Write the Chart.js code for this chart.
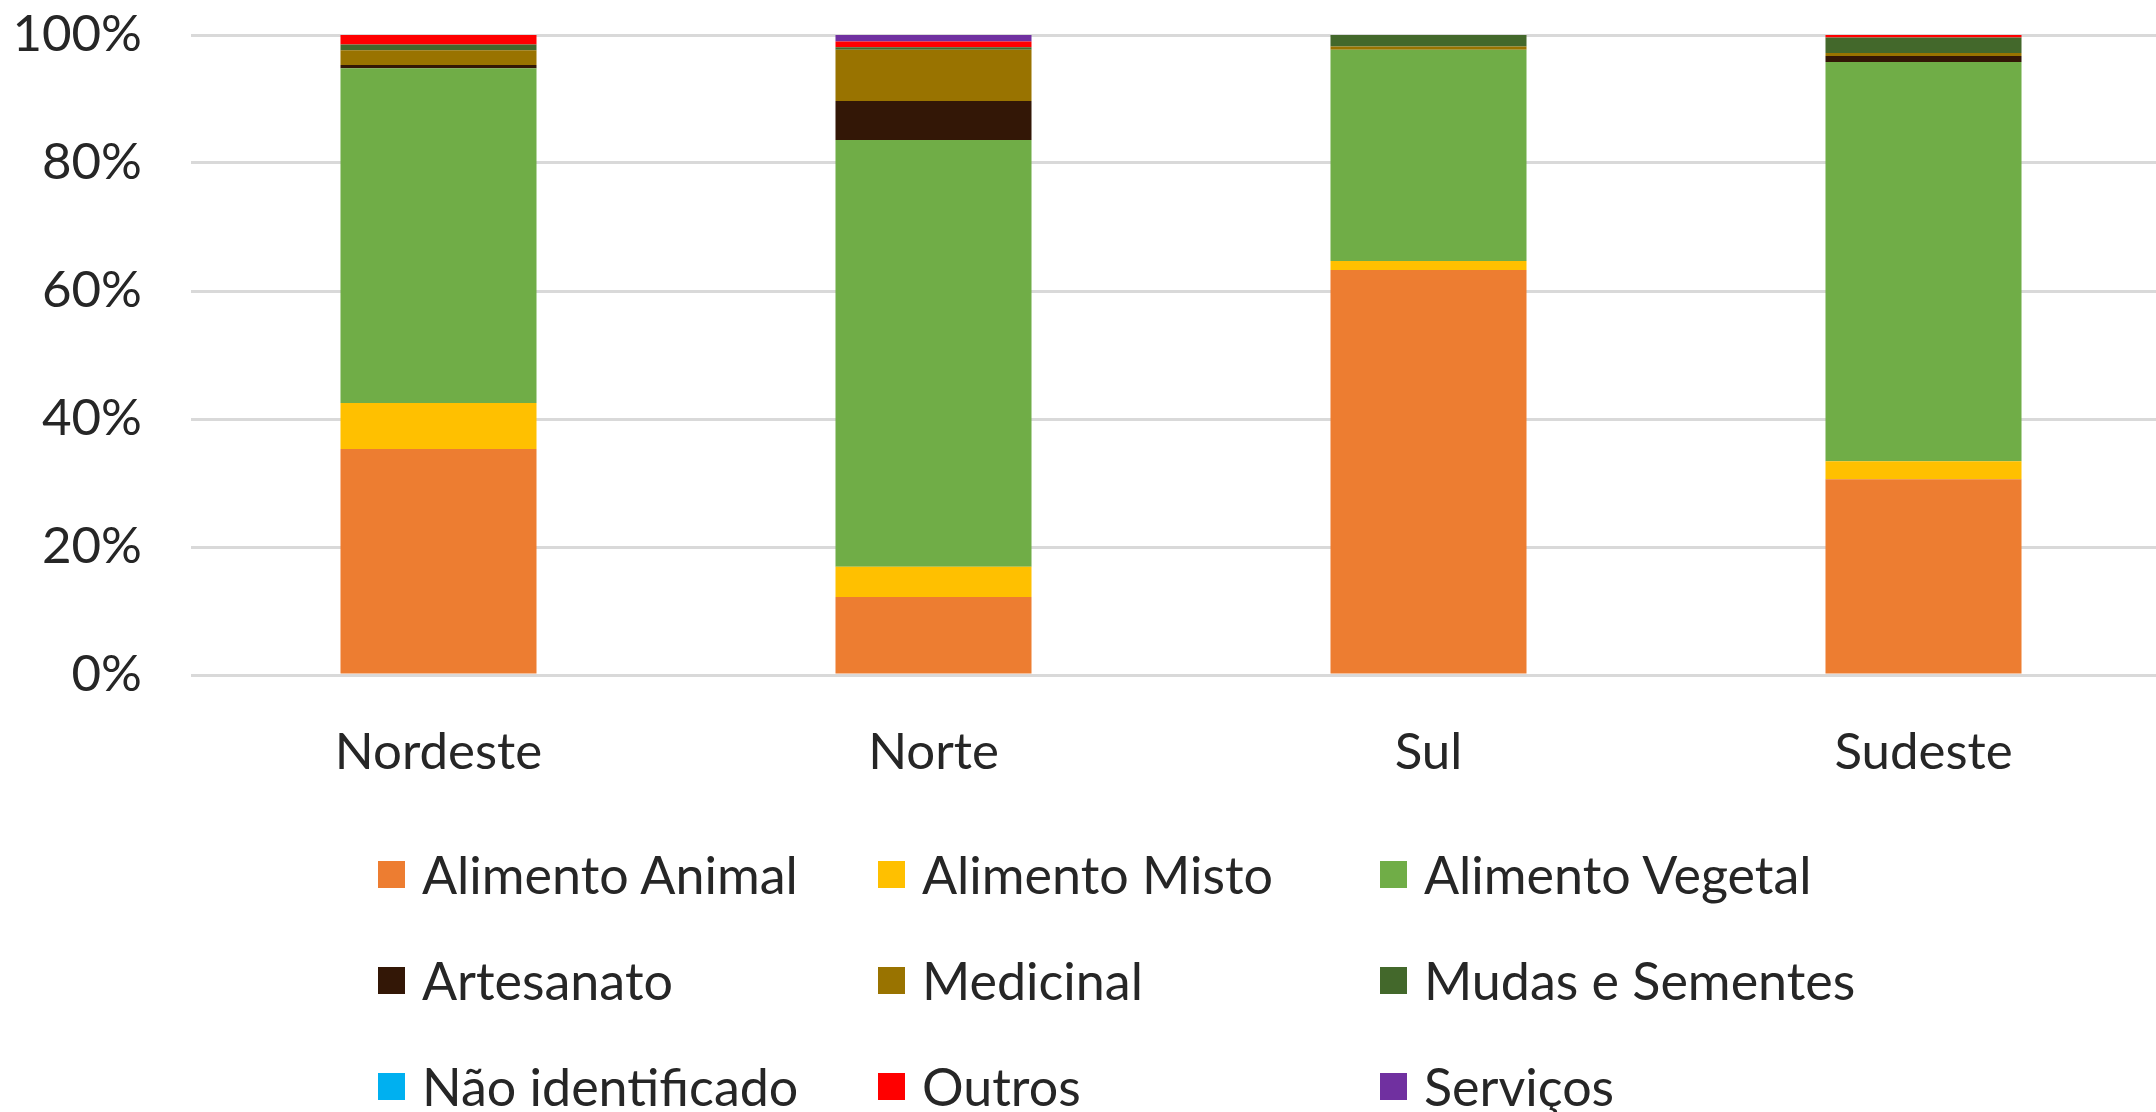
<!DOCTYPE html>
<html>
<head>
<meta charset="utf-8">
<script src="https://cdn.jsdelivr.net/npm/chart.js@4/dist/chart.umd.min.js"></script>
<style>
    html, body { margin: 0; padding: 0; background: #fff; overflow: hidden; width: 2156px; height: 1112px; }
    #wrap { position: absolute; left: 0; top: 0; width: 2175px; height: 790px; }
    #legend {
        position: absolute; left: 378px; top: 845px;
        display: grid; grid-template-columns: 500px 502px 500px; grid-auto-rows: 106px;
        font-family: Lato, sans-serif; font-size: 52px; color: #262626;
    }
    .item { display: flex; align-items: center; height: 58px; white-space: nowrap; }
    .box { width: 27px; height: 27px; margin-right: 17px; flex: none; }
</style>
</head>
<body>
<div id="wrap"><canvas id="chart" width="2175" height="790"></canvas></div>
<div id="legend"></div>
<script>
// Regioes e participacao (%) de cada categoria
const regioes = ['Nordeste', 'Norte', 'Sul', 'Sudeste'];

const alimentoAnimal   = [35.3, 12.2, 63.3, 30.6];
const alimentoMisto    = [7.2, 4.7, 1.4, 2.8];
const alimentoVegetal  = [52.3, 66.7, 33.0, 62.4];
const artesanato       = [0.5, 6.1, 0, 0.9];
const medicinal        = [2.3, 8.0, 0.5, 0.5];
const mudasSementes    = [0.9, 0.4, 1.8, 2.4];
const naoIdentificado  = [0, 0, 0, 0];
const outros           = [1.5, 0.9, 0, 0.4];
const servicos         = [0, 1.0, 0, 0];

const yTicks = [0, 20, 40, 60, 80, 100];

const series = [
    { label: 'Alimento Animal', data: alimentoAnimal, color: '#ED7D31' },
    { label: 'Alimento Misto', data: alimentoMisto, color: '#FFC000' },
    { label: 'Alimento Vegetal', data: alimentoVegetal, color: '#70AD47' },
    { label: 'Artesanato', data: artesanato, color: '#331706' },
    { label: 'Medicinal', data: medicinal, color: '#997300' },
    { label: 'Mudas e Sementes', data: mudasSementes, color: '#43682B' },
    { label: 'Não identificado', data: naoIdentificado, color: '#00B0F0' },
    { label: 'Outros', data: outros, color: '#FF0000' },
    { label: 'Serviços', data: servicos, color: '#7030A0' }
];

const fonte = { family: 'Lato, sans-serif', size: 51 };

const chart = new Chart(document.getElementById('chart'), {
    type: 'bar',
    data: {
        labels: regioes,
        datasets: series.map(s => ({
            label: s.label,
            data: s.data,
            backgroundColor: s.color,
            borderWidth: 0,
            categoryPercentage: 1,
            barPercentage: 0.396
        }))
    },
    options: {
        responsive: false,
        animation: false,
        layout: { padding: { top: 35, right: 4, left: 0, bottom: 0 } },
        plugins: {
            legend: { display: false },
            tooltip: { enabled: false }
        },
        scales: {
            x: {
                stacked: true,
                grid: { display: false, drawTicks: false },
                border: { display: false },
                ticks: { font: fonte, color: '#262626', padding: 47 },
                afterFit: scale => {
                    scale.height = 115;
                    scale.paddingLeft = 0;
                    scale.paddingRight = 0;
                }
            },
            y: {
                stacked: true,
                min: 0,
                max: 100,
                afterBuildTicks: scale => { scale.ticks = yTicks.map(v => ({ value: v })); },
                grid: { color: '#D9D9D9', lineWidth: 3, drawTicks: false },
                border: { display: false },
                ticks: { font: fonte, color: '#262626', padding: 49, callback: v => v + '%' },
                afterFit: scale => {
                    scale.width = 191;
                    scale.paddingTop = 0;
                    scale.paddingBottom = 0;
                }
            }
        }
    }
});

// Legenda em grade (3 colunas)
const legend = document.getElementById('legend');
chart.data.datasets.forEach(ds => {
    const item = document.createElement('div');
    item.className = 'item';
    item.innerHTML = `<span class="box" style="background:${ds.backgroundColor}"></span><span>${ds.label}</span>`;
    legend.appendChild(item);
});
</script>
</body>
</html>
